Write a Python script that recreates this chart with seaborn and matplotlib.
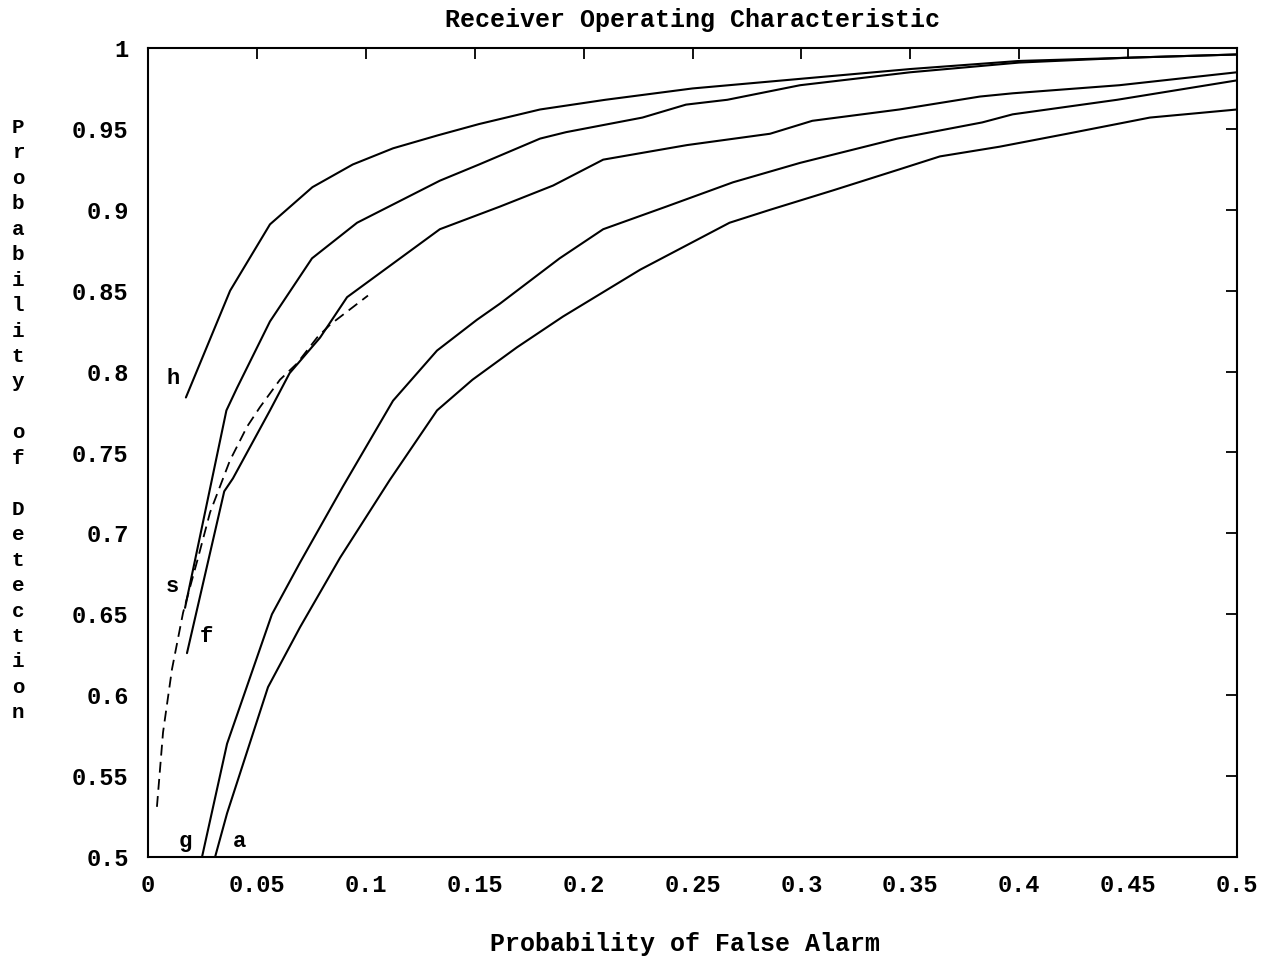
import numpy as np
import pandas as pd
import matplotlib
matplotlib.use("Agg")
import matplotlib.pyplot as plt
import seaborn as sns

# ---- data ----
h_x = [0.0174, 0.0377, 0.056, 0.0755, 0.094, 0.1125, 0.133, 0.152, 0.18, 0.21, 0.25, 0.30, 0.35, 0.40, 0.45, 0.50]
h_y = [0.784, 0.850, 0.891, 0.914, 0.928, 0.938, 0.946, 0.953, 0.962, 0.968, 0.975, 0.981, 0.987, 0.992, 0.994, 0.996]

s_x = [0.0170, 0.0360, 0.0409, 0.056, 0.0753, 0.096, 0.134, 0.152, 0.18, 0.192, 0.227, 0.247, 0.266, 0.2994, 0.35, 0.40, 0.45, 0.50]
s_y = [0.654, 0.776, 0.790, 0.831, 0.870, 0.892, 0.918, 0.928, 0.944, 0.948, 0.957, 0.965, 0.968, 0.977, 0.985, 0.991, 0.994, 0.996]

f_x = [0.0179, 0.0350, 0.039, 0.056, 0.065, 0.079, 0.0914, 0.134, 0.1616, 0.186, 0.209, 0.2475, 0.2856, 0.305, 0.345, 0.382, 0.397, 0.446, 0.50]
f_y = [0.626, 0.726, 0.734, 0.776, 0.799, 0.821, 0.846, 0.888, 0.902, 0.915, 0.931, 0.940, 0.947, 0.955, 0.962, 0.970, 0.972, 0.977, 0.985]

g_x = [0.0248, 0.0363, 0.0569, 0.0698, 0.0895, 0.1125, 0.1327, 0.151, 0.1616, 0.189, 0.209, 0.238, 0.2686, 0.2994, 0.344, 0.383, 0.397, 0.445, 0.50]
g_y = [0.500, 0.570, 0.650, 0.682, 0.729, 0.782, 0.813, 0.832, 0.842, 0.870, 0.888, 0.902, 0.917, 0.929, 0.944, 0.954, 0.959, 0.968, 0.980]

a_x = [0.0308, 0.0363, 0.0551, 0.0698, 0.0882, 0.111, 0.1327, 0.149, 0.1694, 0.1905, 0.226, 0.267, 0.2856, 0.3145, 0.345, 0.3636, 0.391, 0.422, 0.460, 0.50]
a_y = [0.500, 0.527, 0.605, 0.642, 0.685, 0.733, 0.776, 0.795, 0.815, 0.834, 0.863, 0.892, 0.900, 0.912, 0.925, 0.933, 0.939, 0.947, 0.957, 0.962]

d_x = [0.0041, 0.0069, 0.011, 0.0161, 0.023, 0.0285, 0.0376, 0.0455, 0.0514, 0.0606, 0.0684, 0.0776, 0.0836, 0.101]
d_y = [0.531, 0.577, 0.616, 0.651, 0.685, 0.713, 0.745, 0.766, 0.778, 0.795, 0.805, 0.821, 0.829, 0.847]

curve_labels = ["h", "s", "f", "g", "a"]
label_x = [0.0115, 0.011, 0.027, 0.017, 0.042]
label_y = [0.789, 0.661, 0.630, 0.503, 0.503]

x_ticks = [0, 0.05, 0.1, 0.15, 0.2, 0.25, 0.3, 0.35, 0.4, 0.45, 0.5]
y_ticks = [0.5, 0.55, 0.6, 0.65, 0.7, 0.75, 0.8, 0.85, 0.9, 0.95, 1]

title = "Receiver Operating Characteristic"
x_label = "Probability of False Alarm"
y_label = "Probability of Detection"

# ---- build frames ----
solid = pd.concat([
    pd.DataFrame({"pfa": xs, "pd": ys, "curve": name})
    for name, xs, ys in [("h", h_x, h_y), ("s", s_x, s_y), ("f", f_x, f_y),
                         ("g", g_x, g_y), ("a", a_x, a_y)]
], ignore_index=True)
dashed = pd.DataFrame({"pfa": d_x, "pd": d_y, "curve": "d"})

sns.set_theme(style="white")
plt.rcParams["font.family"] = ["Liberation Mono", "DejaVu Sans"]
plt.rcParams["text.color"] = "black"

fig = plt.figure(figsize=(12.72, 9.63), dpi=100)
W, H = 1272, 963
ax = fig.add_axes([148 / W, 1 - 857 / H, (1237 - 148) / W, (857 - 48) / H])

sns.lineplot(data=solid, x="pfa", y="pd", hue="curve",
             palette={k: "black" for k in curve_labels},
             estimator=None, sort=False, legend=False, linewidth=1.5, ax=ax)
sns.lineplot(data=dashed, x="pfa", y="pd", color="black", estimator=None,
             sort=False, legend=False, linewidth=1.3, linestyle=(0, (6, 3.5)), ax=ax)

for lab, lx, ly in zip(curve_labels, label_x, label_y):
    ax.text(lx, ly, lab, fontsize=16, fontweight="bold", ha="center", va="bottom",
            color="black", family=["Liberation Mono", "DejaVu Sans"])

ax.set_xlim(0, 0.5)
ax.set_ylim(0.5, 1)
ax.set_xticks(x_ticks)
ax.set_yticks(y_ticks)
ax.set_xticklabels([f"{v:g}" for v in x_ticks])
ax.set_yticklabels([f"{v:g}" for v in y_ticks])
ax.tick_params(direction="in", top=True, right=True, length=8, width=1.3,
               labelsize=17, colors="black")
ax.tick_params(axis="x", pad=12)
ax.tick_params(axis="y", pad=14)
for lab in ax.get_xticklabels() + ax.get_yticklabels():
    lab.set_fontweight("bold")
for sp in ax.spines.values():
    sp.set_visible(True)
    sp.set_color("black")
    sp.set_linewidth(1.5)
ax.set_xlabel("")
ax.set_ylabel("")

fig.text((148 + 1237) / 2 / W, 1 - 20 / H, title, ha="center", va="center",
         fontsize=18, fontweight="bold", color="black")
fig.text(685 / W, 1 - 944 / H, x_label, ha="center", va="center",
         fontsize=18, fontweight="bold", color="black")
fig.text(18 / W, 1 - 118 / H, "\n".join(y_label), ha="center", va="top",
         fontsize=15, fontweight="bold", linespacing=1.43, color="black")

fig.savefig("out.png", dpi=100, facecolor="white")
